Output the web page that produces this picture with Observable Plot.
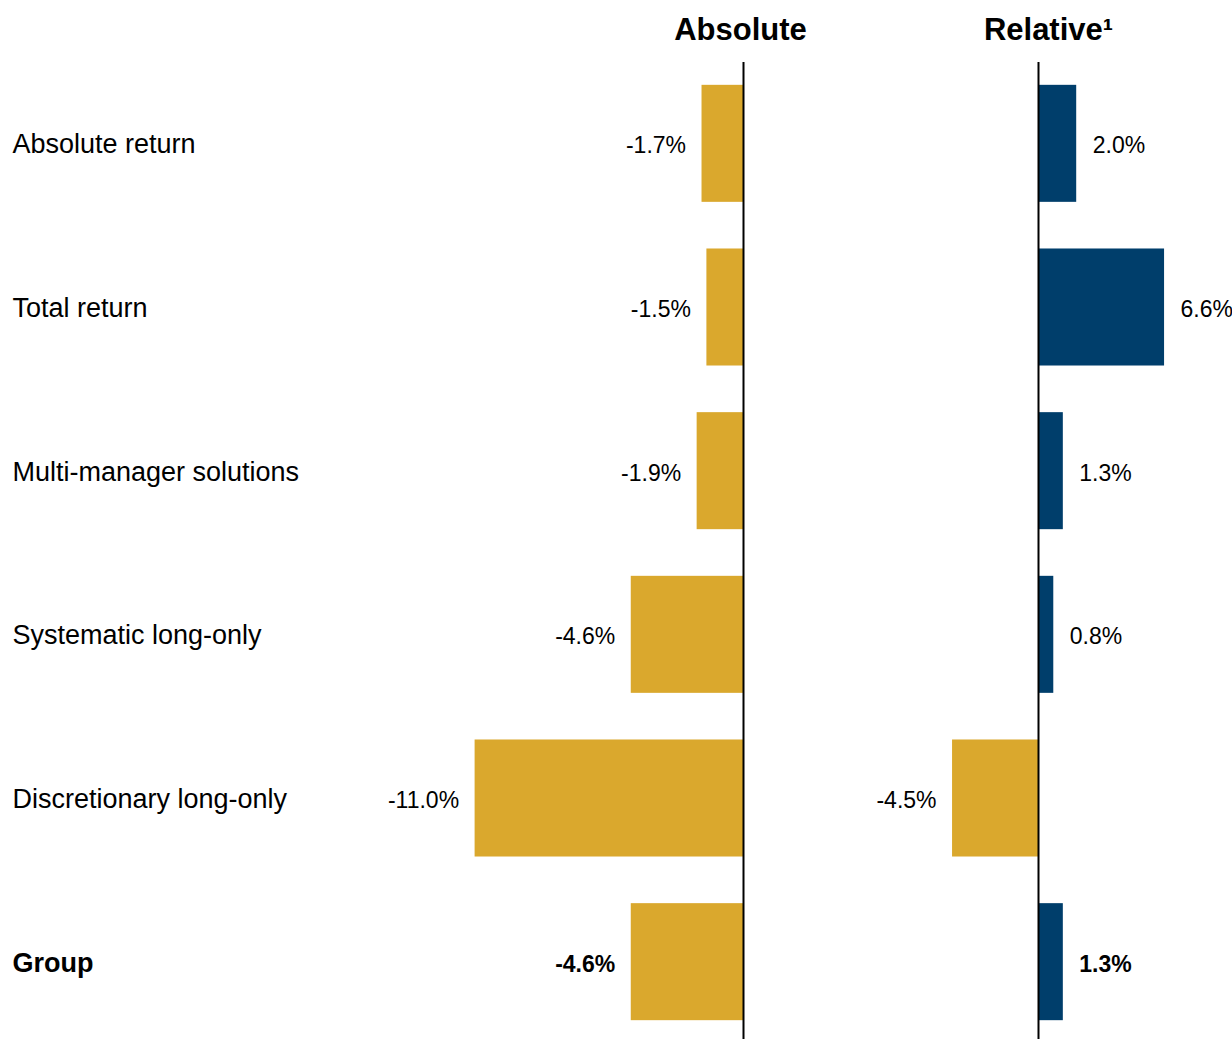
<!DOCTYPE html>
<html>
<head>
<meta charset="utf-8">
<script src="https://cdn.jsdelivr.net/npm/d3@7"></script>
<script src="https://cdn.jsdelivr.net/npm/@observablehq/plot@0.6"></script>
<style>
  html, body { margin: 0; padding: 0; background: #fff; }
  #wrap { position: relative; width: 1232px; height: 1039px; font-family: "Liberation Sans", Arial, sans-serif; }
  #wrap > div { position: absolute; top: 0; }
</style>
</head>
<body>
<div id="wrap"><div id="a" style="left:0"></div><div id="b" style="left:860px"></div></div>
<script>
const categories = ["Absolute return", "Total return", "Multi-manager solutions", "Systematic long-only", "Discretionary long-only", "Group"];
const absoluteValues = [-1.7, -1.5, -1.9, -4.6, -11.0, -4.6];
const relativeValues = [2.0, 6.6, 1.3, 0.8, -4.5, 1.3];
const panelTitles = ["Absolute", "Relative\u00B9"];
const boldCategory = "Group";

const GOLD = "#DAA82D";
const NAVY = "#003E6B";
const FONT = "Liberation Sans, Arial, sans-serif";

const absData = categories.map((c, i) => ({cat: c, value: absoluteValues[i]}));
const relData = categories.map((c, i) => ({cat: c, value: relativeValues[i]}));
const fmt = v => v.toFixed(1) + "%";

const yScale = {domain: categories, range: [61.5, 1043.5], round: false, paddingInner: 0.285, paddingOuter: 0.1425, axis: null};
const common = {height: 1039, marginTop: 62, marginBottom: 0, marginLeft: 0, marginRight: 0,
  style: {fontFamily: FONT, background: "transparent", overflow: "visible"}};

const plotA = Plot.plot({
  ...common,
  width: 860,
  x: {domain: [-743 / 24.4, (860 - 743) / 24.4], axis: null},
  y: yScale,
  marks: [
    Plot.barX(absData, {x: "value", y: "cat", fill: GOLD}),
    Plot.ruleX([0], {stroke: "#000", strokeWidth: 2}),
    Plot.text(absData, {x: "value", y: "cat", text: d => fmt(d.value), textAnchor: "end", dx: -16, dy: 2,
      fontSize: 23, fill: "#000", filter: d => d.cat !== boldCategory}),
    Plot.text(absData, {x: "value", y: "cat", text: d => fmt(d.value), textAnchor: "end", dx: -16, dy: 2,
      fontSize: 23, fontWeight: "bold", fill: "#000", filter: d => d.cat === boldCategory}),
    Plot.text(categories.filter(c => c !== boldCategory), {y: d => d, text: d => d, frameAnchor: "left", textAnchor: "start",
      dx: 12, dy: 1, fontSize: 27, fill: "#000"}),
    Plot.text(categories.filter(c => c === boldCategory), {y: d => d, text: d => d, frameAnchor: "left", textAnchor: "start",
      dx: 12, dy: 1, fontSize: 27, fontWeight: "bold", fill: "#000"}),
    Plot.text([panelTitles[0]], {x: 0, text: d => d, frameAnchor: "top", lineAnchor: "bottom", dy: -23, dx: -3,
      fontSize: 31, fontWeight: "bold", fill: "#000"})
  ]
});

const plotB = Plot.plot({
  ...common,
  width: 372,
  x: {domain: [-178 / 19.1, (372 - 178) / 19.1], axis: null},
  y: yScale,
  marks: [
    Plot.barX(relData, {x: "value", y: "cat", fill: d => d.value < 0 ? GOLD : NAVY}),
    Plot.ruleX([0], {stroke: "#000", strokeWidth: 2}),
    Plot.text(relData, {x: "value", y: "cat", text: d => fmt(d.value), textAnchor: "start", dx: 16, dy: 2,
      fontSize: 23, fill: "#000", filter: d => d.value >= 0 && d.cat !== boldCategory}),
    Plot.text(relData, {x: "value", y: "cat", text: d => fmt(d.value), textAnchor: "start", dx: 16, dy: 2,
      fontSize: 23, fontWeight: "bold", fill: "#000", filter: d => d.value >= 0 && d.cat === boldCategory}),
    Plot.text(relData, {x: "value", y: "cat", text: d => fmt(d.value), textAnchor: "end", dx: -16, dy: 2,
      fontSize: 23, fill: "#000", filter: d => d.value < 0}),
    Plot.text([panelTitles[1]], {x: 0, text: d => d, frameAnchor: "top", lineAnchor: "bottom", dy: -23, dx: 10,
      fontSize: 31, fontWeight: "bold", fill: "#000"})
  ]
});

document.getElementById("a").appendChild(plotA);
document.getElementById("b").appendChild(plotB);
</script>
</body>
</html>
